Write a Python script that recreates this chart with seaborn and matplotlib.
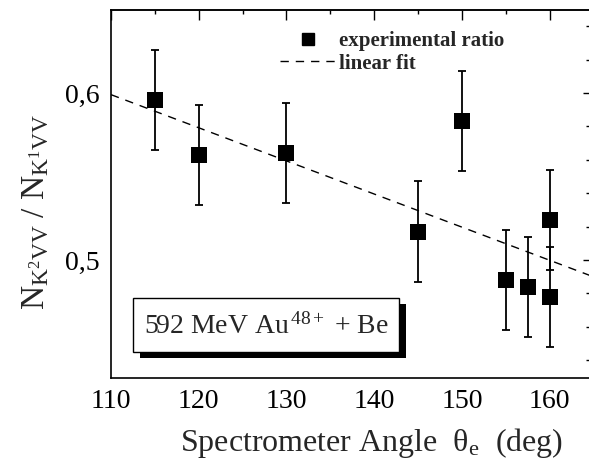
import matplotlib
matplotlib.use("Agg")
import matplotlib.pyplot as plt
import matplotlib.patches as mpatches
from matplotlib.lines import Line2D
from matplotlib.ticker import FixedLocator, FuncFormatter
import seaborn as sns
import pandas as pd

# ---- data ----
angle = [115, 120, 130, 145, 150, 155, 157.5, 160, 160]
ratio = [0.596, 0.563, 0.564, 0.517, 0.583, 0.488, 0.484, 0.524, 0.478]
ratio_err = [0.030, 0.030, 0.030, 0.030, 0.030, 0.030, 0.030, 0.030, 0.030]
fit_angle = [110, 165]
fit_ratio = [0.599, 0.4899]
x_major = [110, 120, 130, 140, 150, 160]
x_minor = [115, 125, 135, 145, 155]
y_major = [0.5, 0.6]
y_major_labels = ["0,5", "0,6"]
y_minor = [0.44, 0.46, 0.48, 0.52, 0.54, 0.56, 0.58, 0.62, 0.64]
legend_labels = ["experimental ratio", "linear fit"]
box_text = "592 MeV Au$^{\\,48+}$ + Be"
x_label = "Spectrometer Angle  \u03b8$_{\\rm e}$  (deg)"
y_label = r"$\mathrm{N}_{\mathrm{K}^{2}\mathrm{VV}}\ /\ \mathrm{N}_{\mathrm{K}^{1}\mathrm{VV}}$"

df = pd.DataFrame({"angle": angle, "ratio": ratio})
fit_df = pd.DataFrame({"angle": fit_angle, "ratio": fit_ratio})

sns.set_style("white")
plt.rcParams["font.family"] = ["Liberation Serif", "DejaVu Serif"]
plt.rcParams["mathtext.fontset"] = "custom"
plt.rcParams["mathtext.rm"] = "Liberation Serif"
plt.rcParams["mathtext.it"] = "Liberation Serif:italic"
plt.rcParams["mathtext.bf"] = "Liberation Serif:bold"
plt.rcParams["mathtext.default"] = "rm"

fig = plt.figure(figsize=(5.89, 4.66), dpi=100)
W, H = 589, 466
ax = fig.add_axes([111 / W, 88 / H, 479 / W, 368 / H])

# fit line
sns.lineplot(data=fit_df, x="angle", y="ratio", ax=ax, color="black",
             linewidth=1.0, linestyle=(0, (6, 5)), legend=False)
# error bars
ax.errorbar(angle, ratio, yerr=ratio_err, fmt="none", ecolor="black",
            elinewidth=1.3, capsize=2.8, capthick=1.3, zorder=3)
# squares
sns.scatterplot(data=df, x="angle", y="ratio", ax=ax, marker="s", s=125,
                color="black", linewidth=0, zorder=4, legend=False)

ax.set_xlim(110, 164.6)
ax.set_ylim(0.4293, 0.6497)

ax.xaxis.set_major_locator(FixedLocator(x_major))
ax.xaxis.set_minor_locator(FixedLocator(x_minor))
ax.yaxis.set_major_locator(FixedLocator(y_major))
ax.yaxis.set_minor_locator(FixedLocator(y_minor))
ax.yaxis.set_major_formatter(FuncFormatter(
    lambda v, p: y_major_labels[y_major.index(round(v, 2))] if round(v, 2) in y_major else ""))

ax.tick_params(axis="both", which="both", direction="out", colors="black",
               width=1.0, labelsize=20, pad=3)
ax.tick_params(axis="both", which="major", length=5)
ax.tick_params(axis="both", which="minor", length=3)
ax.tick_params(axis="y", which="both", length=5)

for side in ["left", "bottom", "top"]:
    ax.spines[side].set_visible(True)
    ax.spines[side].set_color("black")
    ax.spines[side].set_linewidth(1.2)
ax.spines["right"].set_visible(False)

# inward ticks on top and right
secx = ax.secondary_xaxis("top")
secx.xaxis.set_major_locator(FixedLocator(x_major))
secx.xaxis.set_minor_locator(FixedLocator(x_minor))
secx.tick_params(which="both", direction="in", labeltop=False, width=1.0, colors="black")
secx.tick_params(which="major", length=7)
secx.tick_params(which="minor", length=3)
secx.spines["top"].set_linewidth(1.2)

secy = ax.secondary_yaxis("right")
secy.yaxis.set_major_locator(FixedLocator(y_major))
secy.yaxis.set_minor_locator(FixedLocator(y_minor))
secy.tick_params(which="both", direction="in", labelright=False, width=1.0, colors="black")
secy.tick_params(which="major", length=5)
secy.tick_params(which="minor", length=3)
secy.spines["right"].set_visible(False)

ax.set_xlabel(x_label, fontsize=23)
ax.set_ylabel(y_label, fontsize=24)
ax.xaxis.set_label_coords(0.544, -0.13)
ax.yaxis.set_label_coords(-0.125, 0.45)

# legend
handles = [Line2D([], [], marker="s", linestyle="none", markersize=9, color="black"),
           Line2D([], [], linestyle=(0, (6, 5)), linewidth=1.0, color="black")]
leg = ax.legend(handles, legend_labels, loc="upper left", bbox_to_anchor=(0.332, 0.971),
                frameon=False, borderpad=0, handlelength=2.6, handletextpad=0.2,
                labelspacing=0.12, prop={"family": "Liberation Serif", "weight": "bold", "size": 15})

# annotation box with shadow
bx0, bx1 = (133 - 111) / 479, (399 - 111) / 479
by0, by1 = (378 - 352) / 368, (378 - 298) / 368
sdx, sdy = 7 / 479, 6 / 368
shadow = mpatches.Rectangle((bx0 + sdx, by0 - sdy), bx1 - bx0, by1 - by0,
                            transform=ax.transAxes, facecolor="black",
                            edgecolor="black", lw=0, zorder=5)
box = mpatches.Rectangle((bx0, by0), bx1 - bx0, by1 - by0, transform=ax.transAxes,
                         facecolor="white", edgecolor="black", lw=1.0, zorder=6)
ax.add_patch(shadow)
ax.add_patch(box)
ax.text((bx0 + bx1) / 2, (by0 + by1) / 2 - 0.005, box_text, transform=ax.transAxes,
        ha="center", va="center", fontsize=20, zorder=7)

fig.savefig("out.png", dpi=100, facecolor="white")
